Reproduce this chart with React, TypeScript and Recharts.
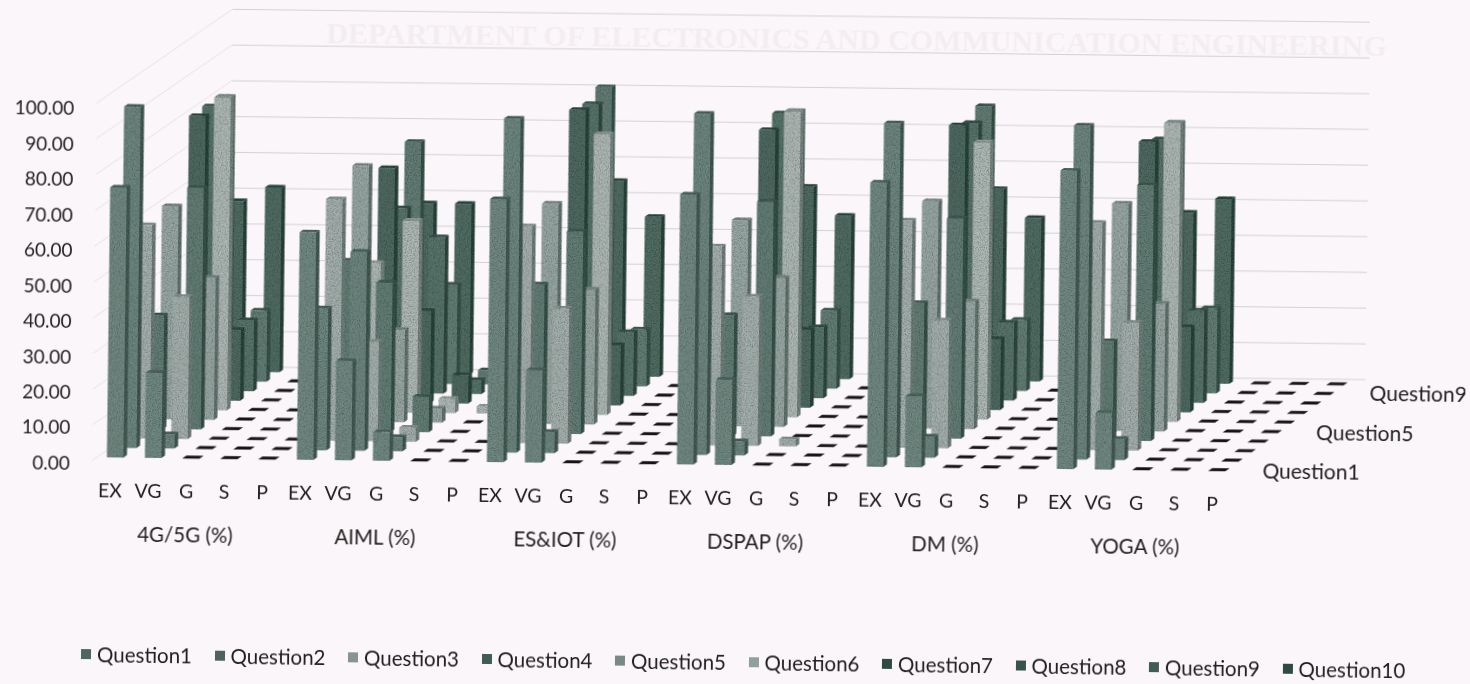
import { BarChart, Bar, XAxis, YAxis, CartesianGrid, Legend } from 'recharts'

const GRADES = ['EX', 'VG', 'G', 'S', 'P']
const GROUPS = ['4G/5G (%)', 'AIML (%)', 'ES&IOT (%)', 'DSPAP (%)', 'DM (%)', 'YOGA (%)']
const Y_TICKS = [0, 10, 20, 30, 40, 50, 60, 70, 80, 90, 100]

const question1 = [76, 24, 0, 0, 0, 64, 28, 8, 0, 0, 74, 26, 0, 0, 0, 76, 24, 0, 0, 0, 80, 20, 0, 0, 0, 84, 16, 0, 0, 0]
const question2 = [96, 4, 0, 0, 0, 40, 56, 4, 0, 0, 94, 6, 0, 0, 0, 96, 4, 0, 0, 0, 94, 6, 0, 0, 0, 94, 6, 0, 0, 0]
const question3 = [60, 40, 0, 0, 0, 68, 28, 4, 0, 0, 61, 38, 0, 0, 0, 56, 42, 2, 0, 0, 64, 36, 0, 0, 0, 64, 36, 0, 0, 0]
const question4 = [32, 68, 0, 0, 0, 48, 42, 10, 0, 0, 42, 57, 0, 0, 0, 34, 66, 0, 0, 0, 38, 62, 0, 0, 0, 28, 72, 0, 0, 0]
const question5 = [60, 40, 0, 0, 0, 72, 26, 4, 0, 0, 62, 38, 0, 0, 0, 58, 42, 0, 0, 0, 64, 36, 0, 0, 0, 64, 36, 0, 0, 0]
const question6 = [12, 88, 0, 0, 0, 42, 54, 4, 2, 0, 21, 79, 0, 0, 0, 14, 86, 0, 0, 0, 22, 78, 0, 0, 0, 16, 84, 0, 0, 0]
const question7 = [80, 20, 0, 0, 0, 66, 26, 8, 0, 0, 83, 17, 0, 0, 0, 78, 22, 0, 0, 0, 80, 20, 0, 0, 0, 76, 24, 0, 0, 0]
const question8 = [80, 20, 0, 0, 0, 52, 44, 4, 0, 0, 82, 18, 0, 0, 0, 80, 20, 0, 0, 0, 78, 22, 0, 0, 0, 74, 26, 0, 0, 0]
const question9 = [80, 20, 0, 0, 0, 68, 28, 4, 0, 0, 84, 16, 0, 0, 0, 78, 22, 0, 0, 0, 80, 20, 0, 0, 0, 76, 24, 0, 0, 0]
const question10 = [48, 52, 0, 0, 0, 48, 48, 4, 0, 0, 55, 45, 0, 0, 0, 54, 46, 0, 0, 0, 54, 46, 0, 0, 0, 48, 52, 0, 0, 0]

const SERIES = [question1, question2, question3, question4, question5, question6, question7, question8, question9, question10]
const FACE = ['#728a83', '#6e8780', '#a5b1ae', '#637e76', '#99a8a4', '#afb9b6', '#4f6b62', '#59756c', '#637e76', '#516d64']
const SIDE = ['#445c55', '#425a53', '#6f7f7a', '#385349', '#647570', '#788581', '#2a443b', '#304a41', '#385349', '#2a443b']
const TOP = ['#4d665f', '#4b645d', '#869590', '#405c53', '#798a85', '#92a09c', '#2f4a41', '#37544a', '#405c53', '#2f4a41']

// one row per bar position, EX..P repeated for each course
const data = GROUPS.flatMap((group, g) =>
  GRADES.map((grade, i) => {
    const row: Record<string, string | number> = { grade, group, pos: g * 5 + i }
    SERIES.forEach((values, k) => {
      row[`Question${k + 1}`] = values[g * 5 + i]
    })
    return row
  }),
)

const ROW_DX = 13
const ROW_DY = 9.7
const SIDE_X = 3.5
const SIDE_Y = 2.5
const LABEL = '#1e1e1e'
const FONT = 'Lato, sans-serif'

function box(k: number) {
  return function Box(props: any) {
    const { x, y, width, height } = props
    const left = x + k * ROW_DX
    const top = y - k * ROW_DY
    const right = left + width
    const topFace = `${left},${top} ${right},${top} ${right + SIDE_X},${top - SIDE_Y} ${left + SIDE_X},${top - SIDE_Y}`
    if (!height) return <polygon points={topFace} fill="#151515" stroke="#151515" strokeWidth={0.5} />
    return (
      <g filter="url(#grain)">
        <rect x={left} y={top} width={width} height={height} fill={FACE[k]} />
        <polygon
          points={`${right},${top} ${right + SIDE_X},${top - SIDE_Y} ${right + SIDE_X},${top + height - SIDE_Y} ${right},${top + height}`}
          fill={SIDE[k]}
        />
        <polygon points={topFace} fill={TOP[k]} />
      </g>
    )
  }
}

function wall(props: any) {
  const { y1, index } = props
  const frontY = 460 - ((456.6 - y1) * 358) / 356
  const backY = frontY - 95.5
  return (
    <g key={index}>
      <polyline points={`97.6,${frontY} 232.5,${backY}`} fill="none" stroke="#e4e2e7" strokeWidth={1} />
      <polyline points={`232.5,${backY} 1370,${backY - 1}`} fill="none" stroke="#d2d1d6" strokeWidth={1} />
    </g>
  )
}

function ValueTick({ y, payload }: any) {
  return (
    <text x={75.6} y={y + 6.2 + payload.value * 0.01} dy="0.35em" textAnchor="end" fontSize={19} fontFamily={FONT} fill={LABEL}>
      {payload.value.toFixed(2)}
    </text>
  )
}

function GradeTick({ x, payload }: any) {
  return (
    <text x={x - 4.5} y={488.7} dy="0.35em" textAnchor="middle" fontSize={19.5} fontFamily={FONT} fill={LABEL}>
      {payload.value}
    </text>
  )
}

function GroupTick({ x, index, payload }: any) {
  if (index % 5 !== 2) return <g />
  return (
    <text x={x - 5} y={533} dy="0.35em" textAnchor="middle" fontSize={20.5} fontFamily={FONT} fill={LABEL}>
      {payload.value}
    </text>
  )
}

function LegendRow({ payload }: any) {
  const items = [...(payload ?? [])].sort(
    (a: any, b: any) => Number(a.value.replace('Question', '')) - Number(b.value.replace('Question', '')),
  )
  return (
    <div style={{ display: 'flex', height: 24, alignItems: 'center', fontFamily: FONT, fontSize: 20.5, color: LABEL }}>
      {items.map((item: any, i: number) => (
        <div key={item.value} style={{ width: 133.5, display: 'flex', alignItems: 'center', flex: 'none' }}>
          <span style={{ width: 10, height: 10, background: TOP[i], marginRight: 6 }} />
          {item.value}
        </div>
      ))}
    </div>
  )
}

const depthLabels = [
  { text: 'Question1', x: 1316.8, y: 456 },
  { text: 'Question5', x: 1370, y: 416.6 },
  { text: 'Question9', x: 1423, y: 376.7 },
]

export default function App() {
  return (
    <div style={{ position: 'fixed', inset: 0, background: '#fbf6f9', overflow: 'hidden' }}>
      <div style={{ width: 1470, height: 684, transform: 'rotate(0.7deg)', transformOrigin: '0 0', filter: 'blur(0.4px)' }}>
        <BarChart
          width={1470}
          height={684}
          data={data}
          barSize={16.5}
          barGap={-16.5}
          margin={{ top: 100.6, right: 228.5, bottom: 127.6, left: 0 }}
        >
          <defs>
            <filter id="grain" x="0" y="0" width="100%" height="100%">
              <feTurbulence type="fractalNoise" baseFrequency="0.85" numOctaves={2} seed={4} result="noise" />
              <feColorMatrix in="noise" type="matrix" values="0 0 0 0 0  0 0 0 0 0  0 0 0 0 0  1.3 0 0 0 -0.5" result="speck" />
              <feComposite in="speck" in2="SourceGraphic" operator="in" result="clipped" />
              <feMerge>
                <feMergeNode in="SourceGraphic" />
                <feMergeNode in="clipped" />
              </feMerge>
            </filter>
          </defs>
          <text x={857} y={28} dy="0.35em" textAnchor="middle" fontSize={30} fontWeight={700} fontFamily="Liberation Serif" fill="#f3edf0">
            DEPARTMENT OF ELECTRONICS AND COMMUNICATION ENGINEERING
          </text>
          <CartesianGrid horizontal={wall} vertical={false} />
          <XAxis dataKey="grade" interval={0} height={30} axisLine={false} tickLine={false} tick={GradeTick} />
          <XAxis xAxisId="group" dataKey="group" interval={0} height={30} axisLine={false} tickLine={false} tick={GroupTick} />
          <YAxis width={101.5} domain={[0, 100]} ticks={Y_TICKS} axisLine={false} tickLine={false} tick={ValueTick} />
          {SERIES.map((_, k) => SERIES.length - 1 - k).map((k) => (
            <Bar key={k} dataKey={`Question${k + 1}`} shape={box(k)} isAnimationActive={false} />
          ))}
          <Legend
            content={LegendRow}
            wrapperStyle={{ position: 'absolute', left: 89, top: 641, width: 1340, height: 24 }}
          />
          {depthLabels.map((d) => (
            <text key={d.text} x={d.x} y={d.y} dy="0.35em" textAnchor="middle" fontSize={21} fontFamily={FONT} fill={LABEL}>
              {d.text}
            </text>
          ))}
        </BarChart>
      </div>
    </div>
  )
}
